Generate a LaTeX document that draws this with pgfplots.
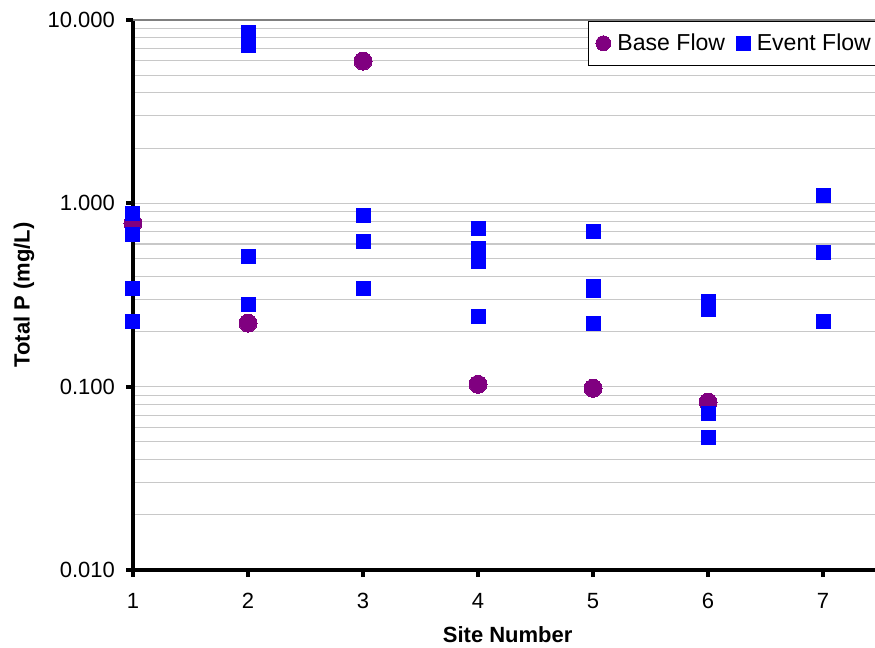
\documentclass[border=0pt]{standalone}
\usepackage{pgfplots}
\pgfplotsset{compat=1.18}
\usepackage{fontspec}
\setmainfont{Liberation Sans}
\definecolor{basec}{HTML}{800080}
\definecolor{eventc}{HTML}{0000FF}
\definecolor{gridc}{HTML}{C8C8C8}
\begin{document}
\begin{tikzpicture}[x=1pt,y=1pt]
\path[use as bounding box] (0,0) rectangle (656.25,486);
\begin{axis}[
 at={(99.75pt,58.5pt)}, anchor=south west,
 scale only axis, width=556.5pt, height=412.5pt,
 xmin=1, xmax=7.452, ymin=0.01, ymax=10, ymode=log,
 axis x line*=bottom, axis y line*=left,
 axis line style={line width=2.8pt, black, -},
 xtick={1,2,3,4,5,6,7}, xticklabels={1,2,3,4,5,6,7},
 ytick={0.01,0.1,1,10}, yticklabels={0.010,0.100,1.000,10.000},
 minor ytick={0.02,0.03,0.04,0.05,0.06,0.07,0.08,0.09,0.2,0.3,0.4,0.5,0.6,0.7,0.8,0.9,2,3,4,5,6,7,8,9},
 tick align=outside, major tick length=5pt, minor tick length=0pt,
 major tick style={line width=2.8pt, black},
 ymajorgrids, yminorgrids,
 major grid style={color=gridc, line width=0.8pt},
 minor grid style={color=gridc, line width=0.8pt},
 clip=false,
 tick label style={font=\fontsize{16.5}{19}\selectfont},
 xticklabel style={yshift=-9pt},
 yticklabel style={xshift=-5pt},
 label style={font=\fontsize{16.5}{19}\selectfont\bfseries},
 xlabel={Site Number}, ylabel={Total P (mg/L)},
 xlabel style={at={(axis description cs:0.505,-0.118)}, anchor=center},
 ylabel style={at={(axis description cs:-0.147,0.5)}, anchor=center},
 legend columns=2,
 legend style={at={(rel axis cs:0.613,0.999)}, anchor=north west, draw=black, line width=1pt,
   font=\fontsize{17.3}{20}\selectfont, inner xsep=5.5pt, inner ysep=7.5pt,
   /tikz/every odd column/.append style={column sep=3pt},
   /tikz/every even column/.append style={column sep=6.25pt}},
 legend cell align=left,
]
\addplot[only marks, mark=*, mark size=6.75pt, color=basec, mark options={fill=basec, draw=basec, line width=0pt},
 legend image post style={mark size=5.6pt}]
 coordinates {(1,0.78) (2,0.222) (3,5.97) (4,0.103) (5,0.098) (6,0.0824)};
\addlegendentry{Base Flow}
\addplot[only marks, mark=square*, mark size=5.25pt, color=eventc, mark options={fill=eventc, draw=eventc, line width=0pt}]
 coordinates {(1,0.885)(1,0.68)(1,0.345)(1,0.228)
 (2,8.5)(2,7.3)(2,0.51)(2,0.282)
 (3,0.853)(3,0.62)(3,0.345)
 (4,0.73)(4,0.57)(4,0.48)(4,0.24)
 (5,0.70)(5,0.354)(5,0.333)(5,0.22)
 (6,0.29)(6,0.262)(6,0.0718)(6,0.0525)
 (7,1.097)(7,0.542)(7,0.228)};
\addlegendentry{Event Flow}
\draw[color=gray, line width=1.1pt] (rel axis cs:0,1) -- (rel axis cs:1,1);
\end{axis}
\end{tikzpicture}
\end{document}
